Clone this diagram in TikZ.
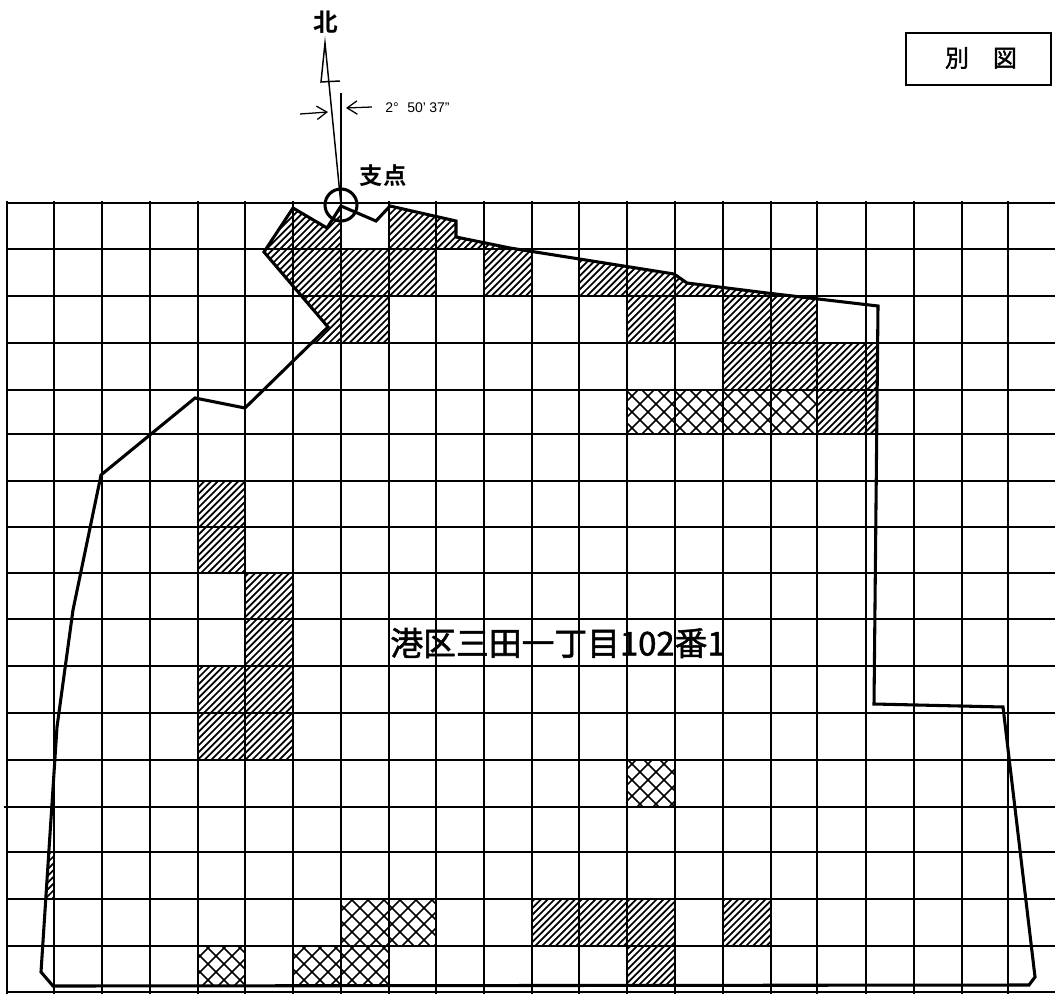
\documentclass[tikz,border=0pt]{standalone}
\usepackage{fontspec}
\usetikzlibrary{arrows.meta}
\setmainfont{Liberation Sans}
\newfontfamily\cjk[FakeBold=1.6]{Noto Sans CJK JP}
\newfontfamily\cjkb{Noto Sans CJK JP Bold}
\tikzset{
  gridline/.style={line width=1.2pt,black},
  hatchline/.style={line width=1.3pt,black},
  crossline/.style={line width=1.2pt,black},
  boundary/.style={line width=2.3pt,black,line join=miter},
  thinline/.style={line width=1.1pt,black},
  dimarrow/.style={line width=0.95pt,-{Straight Barb[length=7.5pt,width=10pt]}},
}
\begin{document}
\begin{tikzpicture}[x=0.75pt,y=-0.75pt]
\useasboundingbox (0,0) rectangle (1055,994);
\fill[white] (0,0) rectangle (1055,994);
\def\outline{(293,208) -- (327,228) -- (341,206) -- (376,221) -- (390,206) -- (456,221) -- (456,237) -- (510,248) -- (674,274) -- (687,283) -- (767,293) -- (878,306) -- (874,704) -- (1003,707) -- (1035,977) -- (1029,985) -- (53,986) -- (41,972) -- (57,727) -- (73,610) -- (101,475) -- (195,398) -- (245,408) -- (328,327) -- (264,252) -- cycle}
% hatched cells
\begin{scope}
\clip \outline;
\clip (245,203) rectangle (293,296)
      (293,203) rectangle (341,343)
      (341,249) rectangle (389,343)
      (389,203) rectangle (436,296)
      (436,203) rectangle (532,249)
      (484,249) rectangle (532,296)
      (579,249) rectangle (817,296)
      (627,296) rectangle (675,343)
      (723,296) rectangle (817,343)
      (723,343) rectangle (817,390)
      (817,343) rectangle (880,434)
      (198,481) rectangle (245,573)
      (245,573) rectangle (293,760)
      (198,666) rectangle (245,760)
      (7,852) rectangle (54,899)
      (532,899) rectangle (675,946)
      (723,899) rectangle (771,946)
      (627,946) rectangle (675,992);
\foreach \c in {400,406.8,...,1800} \draw[hatchline] (\c,0) -- (0,\c);
\end{scope}
% cross-hatched cells
\begin{scope}
\clip \outline;
\clip (627,390) rectangle (817,434)
      (627,760) rectangle (675,807)
      (341,899) rectangle (436,946)
      (198,946) rectangle (245,992)
      (293,946) rectangle (389,992);
\foreach \c in {500,516,...,1516} \draw[crossline] (\c,0) -- (0,\c);
\foreach \c in {-900,-884,...,620} \draw[crossline] (\c,0) -- (\c+1100,1100);
\end{scope}
% grid
\foreach \gx in {7,54,102,150,198,245,293,341,389,436,484,532,579,627,675,723,771,817,866,914,962,1008}
  \draw[gridline] (\gx,201) -- (\gx,994);
\foreach \gy in {203,249,296,343,390,434,481,527,573,619,666,713,760,852,899,946,992}
  \draw[gridline] (7,\gy) -- (1055,\gy);
\draw[gridline] (4,807) -- (1055,807);
% boundary
\draw[boundary] \outline;
% north mark
\coordinate (apex) at (325,43);
\coordinate (pivot) at (341,205);
\coordinate (baseL) at (321,82);
\coordinate (baseR) at (340,81);
\coordinate (axisTop) at (341,93);
\draw[thinline,line join=miter] (baseR) -- (baseL) -- (apex) -- (pivot);
\draw[gridline] (axisTop) -- (pivot);
\node[draw,circle,line width=2.3pt,minimum size=24pt,inner sep=0pt] (pivotmark) at (pivot) {};
\coordinate (arrLs) at (300,114);
\coordinate (arrLe) at (328,112);
\coordinate (arrRs) at (372,107);
\coordinate (arrRe) at (346,108);
\draw[dimarrow] (arrLs) -- (arrLe);
\draw[dimarrow] (arrRs) -- (arrRe);
\node[inner sep=0pt,anchor=west] (angle) at (385,108) {\fontsize{10.5pt}{12pt}\selectfont 2°\hspace{6.5pt}50'\hspace{2.5pt}37"};
\node[inner sep=0pt] (north) at (326,22) {\cjkb\fontsize{18.5pt}{20pt}\selectfont 北};
\node[inner sep=0pt] (fulcrum) at (383,176) {\cjkb\fontsize{17.5pt}{20pt}\selectfont 支点};
\node[inner sep=0pt] (lotname) at (558,643) {\cjk\fontsize{24.6pt}{28pt}\selectfont 港区三田一丁目102番1};
% title box
\draw[line width=2pt] (906,33) rectangle (1051,85);
\node[inner sep=0pt] (bettitle) at (981,58) {\cjk\fontsize{18pt}{20pt}\selectfont 別\hspace{18pt}図};
\end{tikzpicture}
\end{document}
